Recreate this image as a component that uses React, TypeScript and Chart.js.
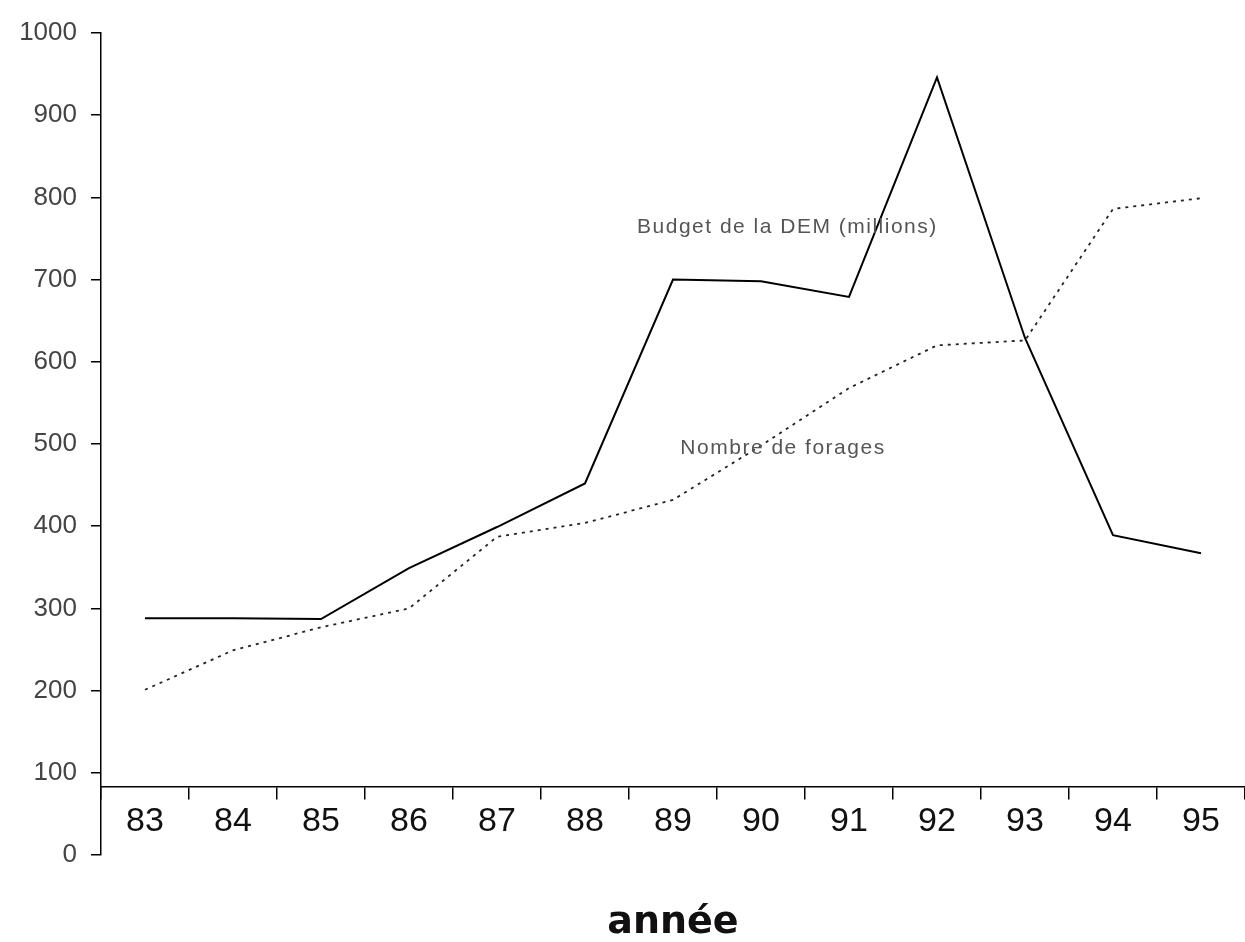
import React, { useEffect, useRef } from "react";
import { Chart, registerables } from "chart.js";

Chart.register(...registerables);

const years = ["83", "84", "85", "86", "87", "88", "89", "90", "91", "92", "93", "94", "95"];
const budget = [288, 288, 287, 349, 399, 452, 700, 698, 679, 946, 629, 389, 367];
const forages = [201, 249, 277, 300, 387, 404, 432, 498, 568, 620, 626, 786, 799];
const budgetLabel = "Budget de la DEM (millions)";
const foragesLabel = "Nombre de forages";
const xTitle = "année";
const yMin = 0;
const yMax = 1000;
const yStep = 100;
const xAxisAt = 83;
// annotation anchors in data coordinates (category index, value)
const budgetLabelAt = [7.3, 764];
const foragesLabelAt = [7.25, 495];

const FONT = "'Liberation Sans', Arial, sans-serif";

const annotationPlugin = {
  id: "lineLabels",
  afterDatasetsDraw(chart: any) {
    const { ctx, scales } = chart;
    const draw = (text: string, at: number[]) => {
      const x = scales.x.getPixelForValue(at[0]);
      const y = scales.y.getPixelForValue(at[1]);
      ctx.save();
      ctx.font = `21px ${FONT}`;
      (ctx as any).letterSpacing = "1.5px";
      ctx.fillStyle = "#555";
      ctx.textAlign = "center";
      ctx.textBaseline = "middle";
      ctx.fillText(text, x, y);
      ctx.restore();
    };
    draw(budgetLabel, budgetLabelAt);
    draw(foragesLabel, foragesLabelAt);
  },
};

export default function App() {
  const canvasRef = useRef<HTMLCanvasElement | null>(null);

  useEffect(() => {
    document.body.style.margin = "0";
    document.body.style.overflow = "hidden";
    const canvas = canvasRef.current;
    if (!canvas) return;
    const chart = new Chart(canvas, {
      type: "line",
      data: {
        labels: years,
        datasets: [
          {
            label: budgetLabel,
            data: budget,
            borderColor: "#000",
            borderWidth: 2,
            pointRadius: 0,
            tension: 0,
            fill: false,
          },
          {
            label: foragesLabel,
            data: forages,
            borderColor: "#222",
            borderWidth: 1.8,
            borderDash: [3, 5],
            pointRadius: 0,
            tension: 0,
            fill: false,
          },
        ],
      },
      options: {
        animation: false,
        responsive: true,
        maintainAspectRatio: false,
        layout: { padding: { top: 33, left: 0, right: 0, bottom: 0 } },
        plugins: {
          legend: { display: false },
          tooltip: { enabled: false },
          title: {
            display: true,
            text: xTitle,
            position: "bottom",
            fullSize: false,
            color: "#111",
            font: { family: "'DejaVu Sans', sans-serif", size: 38, weight: "bold", lineHeight: 1.0 },
            padding: { top: 49, bottom: 0 },
          },
        },
        scales: {
          x: {
            type: "category",
            position: { y: xAxisAt } as any,
            offset: true,
            grid: {
              display: true,
              drawOnChartArea: false,
              offset: true,
              tickLength: 12,
              color: "#000",
              lineWidth: 1.5,
            },
            border: { display: true, color: "#000", width: 1.5 },
            ticks: {
              font: { family: FONT, size: 34 },
              color: "#111",
              padding: 2,
              maxRotation: 0,
              autoSkip: false,
            },
          },
          y: {
            min: yMin,
            max: yMax,
            ticks: {
              stepSize: yStep,
              font: { family: FONT, size: 26 },
              color: "#444",
              padding: 14,
              callback: (v: any) => String(v),
            },
            grid: { drawOnChartArea: false, tickLength: 10, color: "#000", lineWidth: 1.5 },
            border: { display: true, color: "#000", width: 1.5 },
            afterFit: (s: any) => {
              s.width = 101;
            },
          },
        },
      },
      plugins: [annotationPlugin],
    });
    return () => chart.destroy();
  }, []);

  return (
    <div style={{ width: "1245px", height: "942px", position: "relative", background: "#fff" }}>
      <canvas ref={canvasRef} />
    </div>
  );
}
